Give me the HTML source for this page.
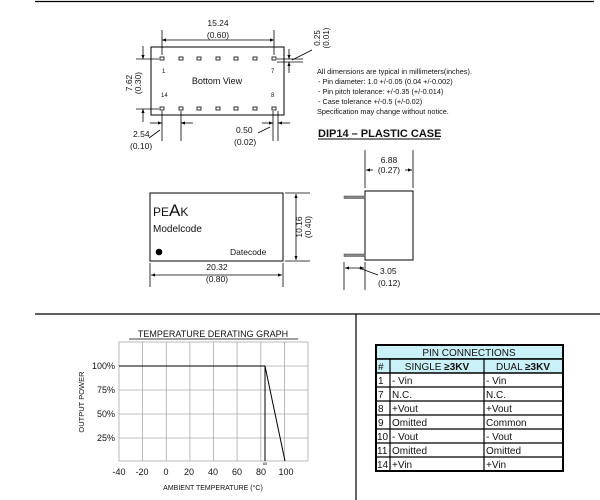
<!DOCTYPE html>
<html><head><style>
html,body{margin:0;padding:0;background:#fff;}
svg{display:block;}
text{font-family:"Liberation Sans",sans-serif;fill:#111;}
</style></head><body>
<svg width="600" height="500" viewBox="0 0 600 500" xmlns="http://www.w3.org/2000/svg">
<defs>
<marker id="a" viewBox="0 0 10 10" refX="10" refY="5" markerWidth="7" markerHeight="5" orient="auto-start-reverse"><path d="M0,1 L10,5 L0,9 z" fill="#000"/></marker>
</defs>
<g stroke="#000" stroke-width="1.2" fill="none">
<line x1="35" y1="1.5" x2="594" y2="1.5"/>
<line x1="35" y1="314" x2="600" y2="314"/>
<line x1="356" y1="314" x2="356" y2="500"/>
</g>
<g stroke="#000" stroke-width="1" fill="none">
<rect x="151" y="47" width="133" height="68"/>
<g stroke-width="0.8">
<rect x="160" y="57" width="4" height="3"/><rect x="179" y="57" width="4" height="3"/><rect x="197" y="57" width="4" height="3"/><rect x="216" y="57" width="4" height="3"/><rect x="234" y="57" width="4" height="3"/><rect x="253" y="57" width="4" height="3"/><rect x="272" y="57" width="4" height="3"/>
<rect x="160" y="107" width="4" height="3"/><rect x="179" y="107" width="4" height="3"/><rect x="197" y="107" width="4" height="3"/><rect x="216" y="107" width="4" height="3"/><rect x="234" y="107" width="4" height="3"/><rect x="253" y="107" width="4" height="3"/><rect x="272" y="107" width="4" height="3"/>
</g>
<g stroke-width="0.8">
<line x1="162" y1="30" x2="162" y2="55"/><line x1="274" y1="30" x2="274" y2="55"/>
<line x1="162" y1="40" x2="274" y2="40" marker-start="url(#a)" marker-end="url(#a)"/>
<line x1="136" y1="59" x2="159" y2="59"/><line x1="136" y1="109" x2="159" y2="109"/>
<line x1="143" y1="46" x2="143" y2="59" marker-end="url(#a)"/><line x1="143" y1="122" x2="143" y2="109" marker-end="url(#a)"/>
<line x1="277" y1="59" x2="303" y2="59"/><line x1="277" y1="62" x2="303" y2="62"/>
<line x1="289" y1="49" x2="289" y2="59" marker-end="url(#a)"/><line x1="289" y1="73" x2="289" y2="62" marker-end="url(#a)"/>
<line x1="292" y1="60" x2="312" y2="50"/>
<line x1="162" y1="111" x2="162" y2="141"/><line x1="181" y1="111" x2="181" y2="141"/>
<line x1="150" y1="123" x2="162" y2="123" marker-end="url(#a)"/><line x1="193" y1="123" x2="181" y2="123" marker-end="url(#a)"/>
<line x1="160" y1="130" x2="149" y2="138"/>
<line x1="273" y1="111" x2="273" y2="141"/><line x1="278" y1="111" x2="278" y2="141"/>
<line x1="262" y1="123" x2="273" y2="123" marker-end="url(#a)"/><line x1="290" y1="123" x2="278" y2="123" marker-end="url(#a)"/>
<line x1="270" y1="127" x2="258" y2="133"/>
</g>
</g>
<text x="218" y="26" font-size="8.5" text-anchor="middle">15.24</text>
<text x="218" y="38" font-size="8.5" text-anchor="middle">(0.60)</text>
<text x="162" y="73" font-size="6">1</text><text x="271" y="73" font-size="6">7</text>
<text x="161" y="97" font-size="6">14</text><text x="271" y="97" font-size="6">8</text>
<text x="217" y="84" font-size="9" text-anchor="middle">Bottom View</text>
<text transform="translate(132,83) rotate(-90)" font-size="8.5" text-anchor="middle">7.62</text>
<text transform="translate(141,83) rotate(-90)" font-size="8.5" text-anchor="middle">(0.30)</text>
<text transform="translate(320,38) rotate(-90)" font-size="8" text-anchor="middle">0.25</text>
<text transform="translate(329,38) rotate(-90)" font-size="8" text-anchor="middle">(0.01)</text>
<text x="133" y="137" font-size="8.5">2.54</text><text x="130" y="149" font-size="8.5">(0.10)</text>
<text x="236" y="133" font-size="8.5">0.50</text><text x="234" y="145" font-size="8.5">(0.02)</text>
<g font-size="7.3">
<text x="317" y="74">All dimensions are typical in millimeters(inches).</text>
<text x="318" y="84">- Pin diameter: 1.0 +/-0.05 (0.04 +/-0.002)</text>
<text x="318" y="94">- Pin pitch tolerance: +/-0.35 (+/-0.014)</text>
<text x="318" y="104">- Case tolerance +/-0.5 (+/-0.02)</text>
<text x="317" y="114">Specification may change without notice.</text>
</g>
<text x="318" y="137" font-size="11" font-weight="bold">DIP14 – PLASTIC CASE</text>
<line x1="318" y1="139" x2="440" y2="139" stroke="#000" stroke-width="1"/>
<g stroke="#000" fill="none">
<rect x="150" y="193" width="133" height="68" stroke-width="1"/>
<g stroke-width="0.8">
<line x1="150" y1="263" x2="150" y2="287"/><line x1="283" y1="263" x2="283" y2="287"/>
<line x1="151" y1="275" x2="282" y2="275" marker-start="url(#a)" marker-end="url(#a)"/>
<line x1="285" y1="193" x2="310" y2="193"/><line x1="285" y1="261" x2="310" y2="261"/>
<line x1="296" y1="194" x2="296" y2="260" marker-start="url(#a)" marker-end="url(#a)"/>
<rect x="365" y="191" width="48" height="69" stroke-width="1"/>
<line x1="365" y1="150" x2="365" y2="188"/><line x1="413" y1="150" x2="413" y2="188"/>
<line x1="366" y1="170" x2="373" y2="170" marker-start="url(#a)"/><line x1="405" y1="170" x2="412" y2="170" marker-end="url(#a)"/>
<line x1="344" y1="262" x2="344" y2="290"/><line x1="365" y1="262" x2="365" y2="290"/>
<line x1="345" y1="268" x2="364" y2="268" marker-start="url(#a)" marker-end="url(#a)"/>
<line x1="359" y1="268" x2="378" y2="275"/>
</g>
</g>
<rect x="344" y="196" width="21" height="2.5" fill="#888" stroke="#444" stroke-width="0.5"/>
<rect x="344" y="254" width="21" height="2.5" fill="#888" stroke="#444" stroke-width="0.5"/>
<circle cx="159" cy="252" r="3.3" fill="#000"/>
<text x="153" y="216" font-size="12">PE<tspan font-size="17">A</tspan>K</text>
<text x="153" y="232" font-size="10">Modelcode</text>
<text x="230" y="255" font-size="8.5">Datecode</text>
<text x="217" y="270" font-size="8.5" text-anchor="middle">20.32</text>
<text x="217" y="282" font-size="8.5" text-anchor="middle">(0.80)</text>
<text transform="translate(302,227) rotate(-90)" font-size="8.5" text-anchor="middle">10.16</text>
<text transform="translate(311,227) rotate(-90)" font-size="8.5" text-anchor="middle">(0.40)</text>
<text x="389" y="163" font-size="8.5" text-anchor="middle">6.88</text>
<text x="389" y="173" font-size="8.5" text-anchor="middle">(0.27)</text>
<text x="380" y="274" font-size="8.5">3.05</text><text x="378" y="286" font-size="8.5">(0.12)</text>
<text x="213" y="337" font-size="9" text-anchor="middle">TEMPERATURE DERATING GRAPH</text>
<line x1="129" y1="339" x2="298" y2="339" stroke="#000" stroke-width="0.8"/>
<g stroke="#aaa" stroke-width="0.8" fill="none">
<rect x="119" y="342" width="189" height="119"/>
<line x1="142.6" y1="342" x2="142.6" y2="461"/><line x1="166.3" y1="342" x2="166.3" y2="461"/><line x1="189.9" y1="342" x2="189.9" y2="461"/><line x1="213.5" y1="342" x2="213.5" y2="461"/><line x1="237.1" y1="342" x2="237.1" y2="461"/><line x1="260.8" y1="342" x2="260.8" y2="461"/><line x1="284.4" y1="342" x2="284.4" y2="461"/>
<line x1="119" y1="366" x2="308" y2="366"/><line x1="119" y1="390" x2="308" y2="390"/><line x1="119" y1="414" x2="308" y2="414"/><line x1="119" y1="438" x2="308" y2="438"/>
</g>
<g stroke="#000" stroke-width="1" fill="none">
<polyline points="119,366 265,366 285,461"/>
<line x1="265" y1="366" x2="265" y2="461"/>
</g>
<g font-size="9">
<text x="115" y="369" text-anchor="end">100%</text>
<text x="115" y="393" text-anchor="end">75%</text>
<text x="115" y="417" text-anchor="end">50%</text>
<text x="115" y="441" text-anchor="end">25%</text>
<text x="119" y="475" text-anchor="middle">-40</text><text x="142" y="475" text-anchor="middle">-20</text><text x="166" y="475" text-anchor="middle">0</text><text x="189" y="475" text-anchor="middle">20</text><text x="213" y="475" text-anchor="middle">40</text><text x="237" y="475" text-anchor="middle">60</text><text x="261" y="475" text-anchor="middle">80</text><text x="286" y="475" text-anchor="middle">100</text>
</g>
<text x="265" y="465" font-size="4" text-anchor="middle">85</text>
<text x="213" y="490" font-size="7" text-anchor="middle">AMBIENT TEMPERATURE (°C)</text>
<text transform="translate(84,402) rotate(-90)" font-size="7.5" text-anchor="middle">OUTPUT POWER</text>
<g stroke="#000" fill="none">
<rect x="376" y="345" width="187" height="14" fill="#c9f1f7" stroke-width="1.5"/>
<rect x="376" y="359" width="187" height="14" fill="#c9f1f7" stroke-width="1.5"/>
<rect x="376" y="345" width="187" height="126" stroke-width="2"/>
<g stroke-width="1.2">
<line x1="376" y1="387" x2="563" y2="387"/><line x1="376" y1="401" x2="563" y2="401"/><line x1="376" y1="415" x2="563" y2="415"/><line x1="376" y1="429" x2="563" y2="429"/><line x1="376" y1="443" x2="563" y2="443"/><line x1="376" y1="457" x2="563" y2="457"/>
<line x1="390" y1="359" x2="390" y2="471"/><line x1="484" y1="359" x2="484" y2="471"/>
</g>
</g>
<g font-size="10">
<text x="469" y="356" text-anchor="middle">PIN CONNECTIONS</text>
<text x="378" y="370">#</text><text x="437" y="370" text-anchor="middle">SINGLE <tspan font-weight="bold">≥3KV</tspan></text><text x="523" y="370" text-anchor="middle">DUAL <tspan font-weight="bold">≥3KV</tspan></text>
<text x="378" y="384">1</text><text x="392" y="384">- Vin</text><text x="486" y="384">- Vin</text>
<text x="378" y="398">7</text><text x="392" y="398">N.C.</text><text x="486" y="398">N.C.</text>
<text x="378" y="412">8</text><text x="392" y="412">+Vout</text><text x="486" y="412">+Vout</text>
<text x="378" y="426">9</text><text x="392" y="426">Omitted</text><text x="486" y="426">Common</text>
<text x="377" y="440">10</text><text x="392" y="440">- Vout</text><text x="486" y="440">- Vout</text>
<text x="377" y="454">11</text><text x="392" y="454">Omitted</text><text x="486" y="454">Omitted</text>
<text x="377" y="468">14</text><text x="392" y="468">+Vin</text><text x="486" y="468">+Vin</text>
</g>
</svg>
</body></html>
